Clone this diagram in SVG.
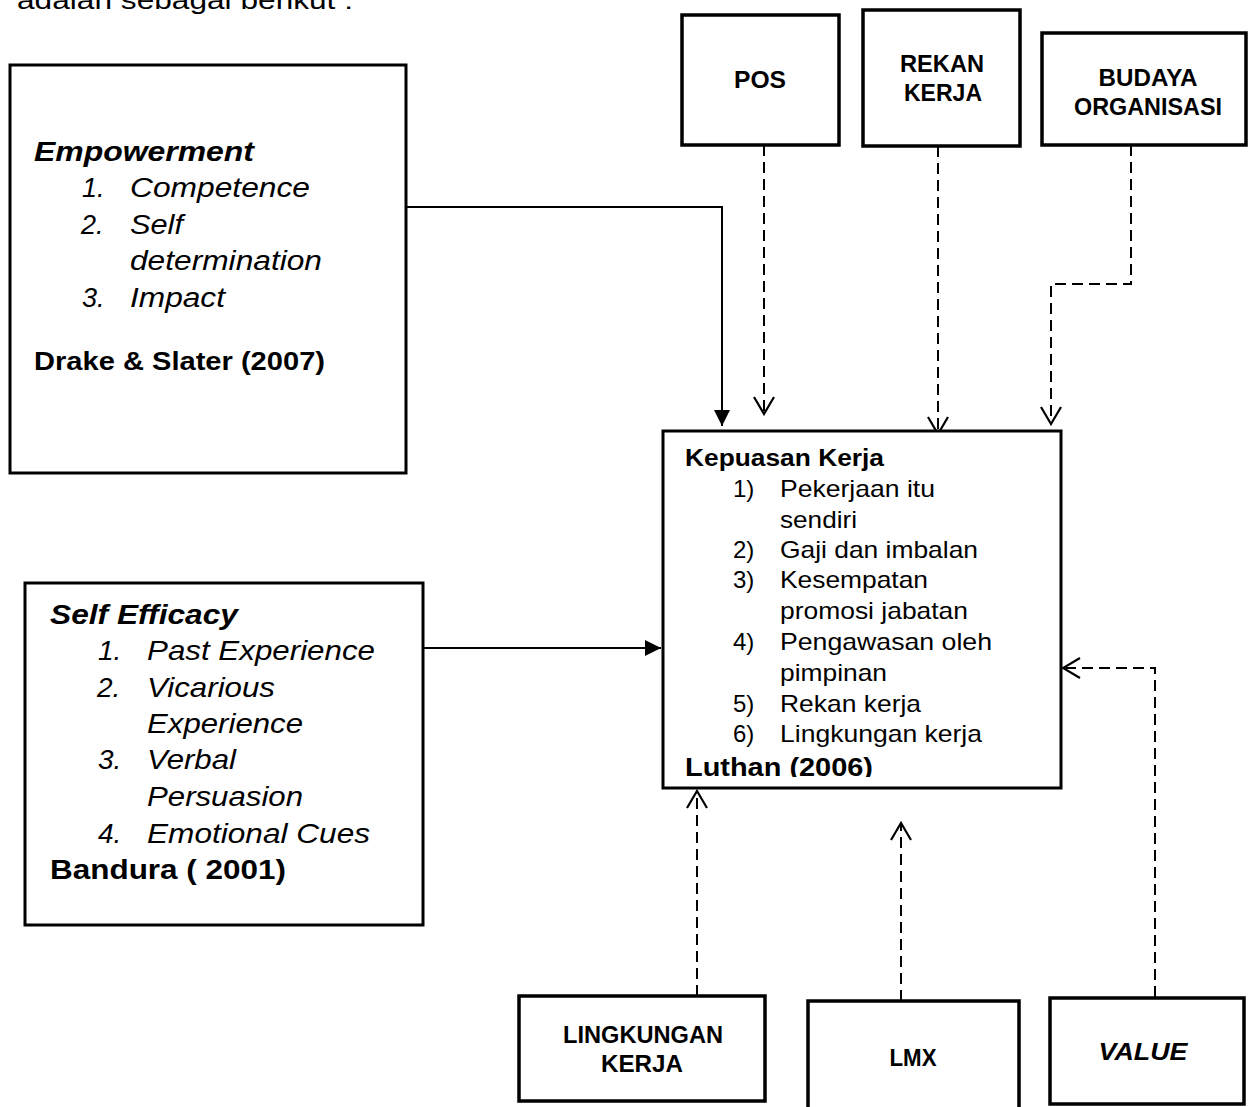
<svg xmlns="http://www.w3.org/2000/svg" width="1255" height="1107" viewBox="0 0 1255 1107">
<style>
text{font-family:"Liberation Sans",Arial,sans-serif;fill:#000}
.b{font-weight:bold}
.i{font-style:italic}
.box{fill:#fff;stroke:#000;stroke-width:3}
.sbox{fill:#fff;stroke:#000;stroke-width:3.5}
.lbl{font-weight:bold;font-size:23px;text-anchor:middle}
.solid{fill:none;stroke:#000;stroke-width:2}
.dash{fill:none;stroke:#000;stroke-width:2;stroke-dasharray:11 6}
</style>
<defs>
<marker id="fill" markerUnits="userSpaceOnUse" viewBox="0 0 16 16" refX="16" refY="8" markerWidth="16" markerHeight="16" orient="auto">
<path d="M0,0 L16,8 L0,16 Z" fill="#000"/>
</marker>
<marker id="open" markerUnits="userSpaceOnUse" viewBox="0 0 20 24" refX="18" refY="12" markerWidth="20" markerHeight="24" orient="auto">
<path d="M1,2 L18,12 L1,22" fill="none" stroke="#000" stroke-width="2.2" stroke-dasharray="none"/>
</marker>
<clipPath id="kclip"><rect x="663" y="431" width="398" height="346"/></clipPath>
</defs>

<text x="17" y="9" font-size="26" textLength="336" lengthAdjust="spacingAndGlyphs">adalah sebagai berikut :</text>

<g id="connectors">
<path class="solid" d="M406,207 H722 V426" marker-end="url(#fill)"/>
<path class="solid" d="M423,648 H661" marker-end="url(#fill)"/>
<path class="dash" d="M764,145 V414" marker-end="url(#open)"/>
<path class="dash" d="M938,146 V434" marker-end="url(#open)"/>
<path class="dash" d="M1131,145 V284 H1051 V424" marker-end="url(#open)"/>
<path class="dash" d="M1155,997 V668 H1063" marker-end="url(#open)"/>
<path class="dash" d="M697,996 V791" marker-end="url(#open)"/>
<path class="dash" d="M901,1001 V823" marker-end="url(#open)"/>
</g>

<g id="empowerment">
<rect class="box" x="10" y="65" width="396" height="408"/>
<text class="b i" x="34" y="161" font-size="27" textLength="220" lengthAdjust="spacingAndGlyphs">Empowerment</text>
<text class="i" x="82" y="197" font-size="27">1.</text>
<text class="i" x="130" y="197" font-size="27" textLength="180" lengthAdjust="spacingAndGlyphs">Competence</text>
<text class="i" x="81" y="234" font-size="27">2.</text>
<text class="i" x="130" y="234" font-size="27" textLength="53" lengthAdjust="spacingAndGlyphs">Self</text>
<text class="i" x="130" y="270" font-size="27" textLength="192" lengthAdjust="spacingAndGlyphs">determination</text>
<text class="i" x="82" y="307" font-size="27">3.</text>
<text class="i" x="130" y="307" font-size="27" textLength="95" lengthAdjust="spacingAndGlyphs">Impact</text>
<text class="b" x="34" y="370" font-size="26" textLength="291" lengthAdjust="spacingAndGlyphs">Drake &amp; Slater (2007)</text>
</g>

<g id="self-efficacy">
<rect class="box" x="25" y="583" width="398" height="342"/>
<text class="b i" x="50" y="624" font-size="28" textLength="188" lengthAdjust="spacingAndGlyphs">Self Efficacy</text>
<text class="i" x="98" y="660" font-size="28">1.</text>
<text class="i" x="147" y="660" font-size="28" textLength="228" lengthAdjust="spacingAndGlyphs">Past Experience</text>
<text class="i" x="97" y="697" font-size="28">2.</text>
<text class="i" x="147" y="697" font-size="28" textLength="128" lengthAdjust="spacingAndGlyphs">Vicarious</text>
<text class="i" x="147" y="733" font-size="28" textLength="156" lengthAdjust="spacingAndGlyphs">Experience</text>
<text class="i" x="98" y="769" font-size="28">3.</text>
<text class="i" x="147" y="769" font-size="28" textLength="89" lengthAdjust="spacingAndGlyphs">Verbal</text>
<text class="i" x="147" y="806" font-size="28" textLength="156" lengthAdjust="spacingAndGlyphs">Persuasion</text>
<text class="i" x="98" y="843" font-size="28">4.</text>
<text class="i" x="147" y="843" font-size="28" textLength="223" lengthAdjust="spacingAndGlyphs">Emotional Cues</text>
<text class="b" x="50" y="879" font-size="28" textLength="236" lengthAdjust="spacingAndGlyphs">Bandura ( 2001)</text>
</g>

<g id="kepuasan-kerja">
<rect class="box" x="663" y="431" width="398" height="357"/>
<text class="b" x="685" y="466" font-size="23" textLength="199" lengthAdjust="spacingAndGlyphs">Kepuasan Kerja</text>
<text x="733" y="497" font-size="24">1)</text>
<text x="780" y="497" font-size="24" textLength="155" lengthAdjust="spacingAndGlyphs">Pekerjaan itu</text>
<text x="780" y="528" font-size="24" textLength="77" lengthAdjust="spacingAndGlyphs">sendiri</text>
<text x="733" y="558" font-size="24">2)</text>
<text x="780" y="558" font-size="24" textLength="198" lengthAdjust="spacingAndGlyphs">Gaji dan imbalan</text>
<text x="733" y="588" font-size="24">3)</text>
<text x="780" y="588" font-size="24" textLength="148" lengthAdjust="spacingAndGlyphs">Kesempatan</text>
<text x="780" y="619" font-size="24" textLength="188" lengthAdjust="spacingAndGlyphs">promosi jabatan</text>
<text x="733" y="650" font-size="24">4)</text>
<text x="780" y="650" font-size="24" textLength="212" lengthAdjust="spacingAndGlyphs">Pengawasan oleh</text>
<text x="780" y="681" font-size="24" textLength="107" lengthAdjust="spacingAndGlyphs">pimpinan</text>
<text x="733" y="712" font-size="24">5)</text>
<text x="780" y="712" font-size="24" textLength="141" lengthAdjust="spacingAndGlyphs">Rekan kerja</text>
<text x="733" y="742" font-size="24">6)</text>
<text x="780" y="742" font-size="24" textLength="202" lengthAdjust="spacingAndGlyphs">Lingkungan kerja</text>
<text class="b" x="685" y="776" font-size="26" textLength="188" lengthAdjust="spacingAndGlyphs" clip-path="url(#kclip)">Luthan (2006)</text>
</g>

<g id="pos">
<rect class="sbox" x="682" y="15" width="157" height="130"/>
<text class="lbl" x="760" y="88" textLength="52" lengthAdjust="spacingAndGlyphs">POS</text>
</g>
<g id="rekan-kerja">
<rect class="sbox" x="863" y="10" width="157" height="136"/>
<text class="lbl" x="942" y="72" textLength="84" lengthAdjust="spacingAndGlyphs">REKAN</text>
<text class="lbl" x="943" y="101" textLength="78" lengthAdjust="spacingAndGlyphs">KERJA</text>
</g>
<g id="budaya-organisasi">
<rect class="sbox" x="1042" y="33" width="204" height="112"/>
<text class="lbl" x="1148" y="86" textLength="99" lengthAdjust="spacingAndGlyphs">BUDAYA</text>
<text class="lbl" x="1148" y="115" textLength="148" lengthAdjust="spacingAndGlyphs">ORGANISASI</text>
</g>

<g id="lingkungan-kerja">
<rect class="sbox" x="519" y="996" width="246" height="105"/>
<text class="lbl" x="643" y="1043" textLength="160" lengthAdjust="spacingAndGlyphs">LINGKUNGAN</text>
<text class="lbl" x="642" y="1072" textLength="82" lengthAdjust="spacingAndGlyphs">KERJA</text>
</g>
<g id="lmx">
<path class="sbox" d="M808,1110 V1001 H1019 V1110"/>
<text class="lbl" x="913" y="1066" textLength="47" lengthAdjust="spacingAndGlyphs">LMX</text>
</g>
<g id="value">
<rect class="sbox" x="1050" y="998" width="194" height="106"/>
<text class="lbl i" x="1143" y="1060" textLength="89" lengthAdjust="spacingAndGlyphs">VALUE</text>
</g>
</svg>
